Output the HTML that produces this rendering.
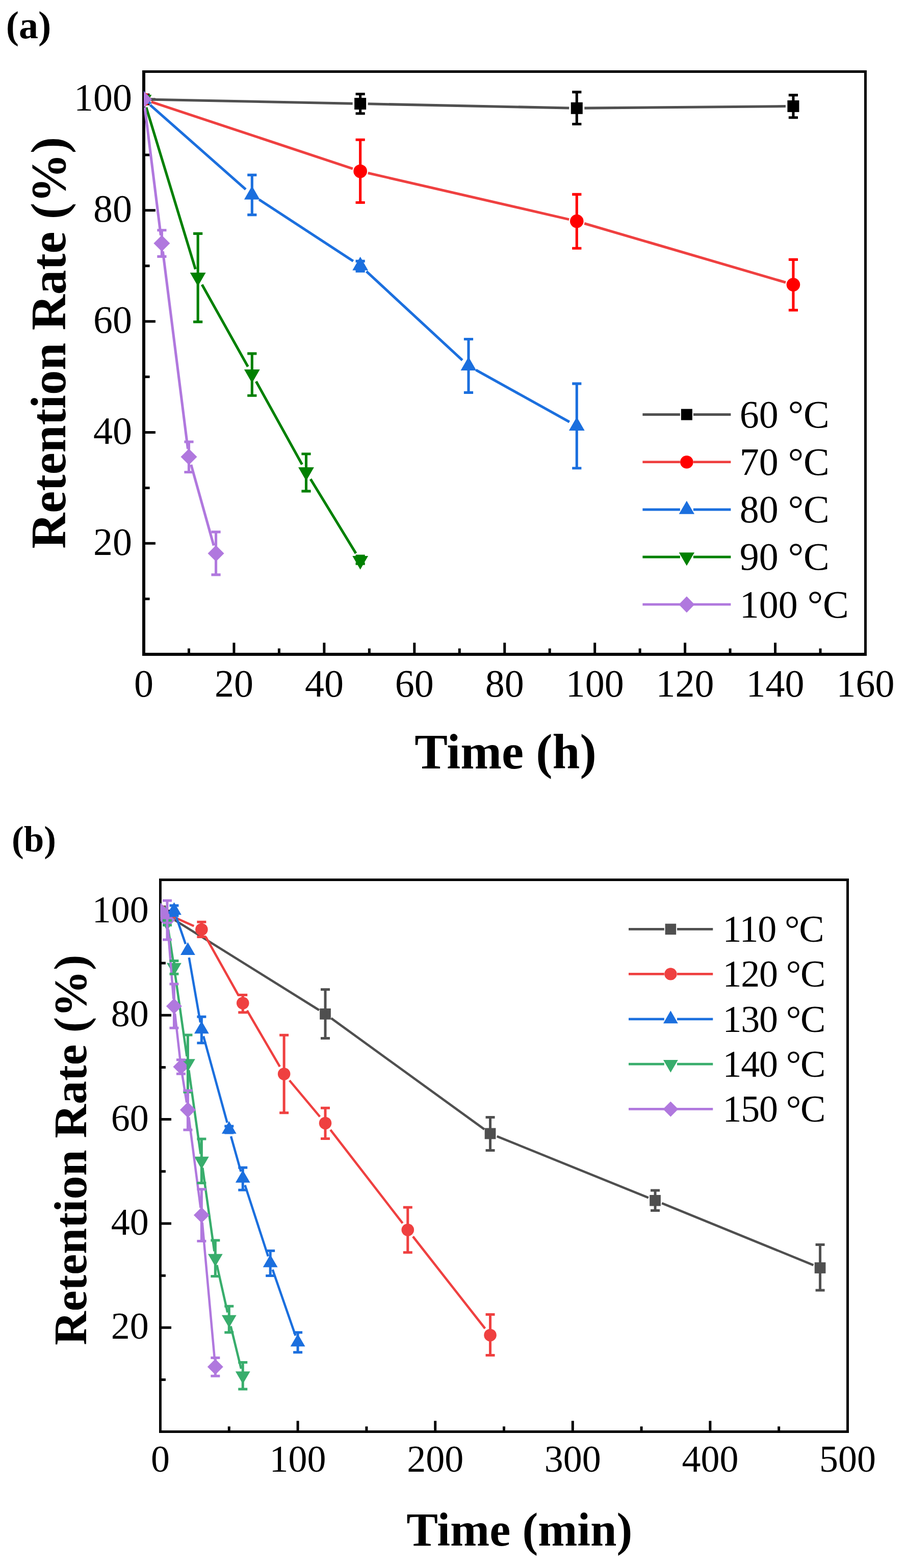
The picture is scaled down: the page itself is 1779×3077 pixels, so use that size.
<!DOCTYPE html><html><head><meta charset="utf-8"><title>Retention Rate vs Time</title><style>html,body{margin:0;padding:0;background:#fff;}svg{display:block;}text{font-family:'Liberation Serif', 'Times New Roman', serif;fill:#000;}</style></head><body>
<svg width="1779" height="3077" viewBox="0 0 1779 3077">
<rect width="1779" height="3077" fill="#fff"/>
<path d="M279 138H1700V143.1H279Z M279 1281H1700V1287H279Z M279 138H285V1287H279Z M1695 138H1700V1287H1695Z" fill="#000"/>
<path d="M370.47 1284.2V1272.6M458.94 1284.2V1261.3M547.41 1284.2V1272.6M635.88 1284.2V1261.3M724.34 1284.2V1272.6M812.81 1284.2V1261.3M901.28 1284.2V1272.6M989.75 1284.2V1261.3M1078.22 1284.2V1272.6M1166.69 1284.2V1261.3M1255.16 1284.2V1272.6M1343.62 1284.2V1261.3M1432.09 1284.2V1272.6M1520.56 1284.2V1261.3M1609.03 1284.2V1272.6M282 1175.28H293.6M282 1066.35H304.9M282 957.43H293.6M282 848.5H304.9M282 739.58H293.6M282 630.66H304.9M282 521.73H293.6M282 412.81H304.9M282 303.89H293.6M282 194.96H304.9" stroke="#000" stroke-width="5" fill="none"/>
<text x="282" y="1366.8" font-size="76" text-anchor="middle">0</text>
<text x="458.94" y="1366.8" font-size="76" text-anchor="middle">20</text>
<text x="635.88" y="1366.8" font-size="76" text-anchor="middle">40</text>
<text x="812.81" y="1366.8" font-size="76" text-anchor="middle">60</text>
<text x="989.75" y="1366.8" font-size="76" text-anchor="middle">80</text>
<text x="1166.69" y="1366.8" font-size="76" text-anchor="middle">100</text>
<text x="1343.62" y="1366.8" font-size="76" text-anchor="middle">120</text>
<text x="1520.56" y="1366.8" font-size="76" text-anchor="middle">140</text>
<text x="1697.5" y="1366.8" font-size="76" text-anchor="middle">160</text>
<text x="258.9" y="1088.65" font-size="76" text-anchor="end">20</text>
<text x="258.9" y="870.8" font-size="76" text-anchor="end">40</text>
<text x="258.9" y="652.96" font-size="76" text-anchor="end">60</text>
<text x="258.9" y="435.11" font-size="76" text-anchor="end">80</text>
<text x="258.9" y="217.26" font-size="76" text-anchor="end">100</text>
<text x="813.3" y="1508.1" font-size="97" font-weight="bold">Time (h)</text>
<text transform="translate(128 1076.7) rotate(-90)" font-size="97" font-weight="bold">Retention Rate (%)</text>
<text x="11.8" y="74.5" font-size="76" font-weight="bold">(a)</text>
<clipPath id="ca"><rect x="282" y="140.5" width="1415.5" height="1143.7"/></clipPath>
<g clip-path="url(#ca)">
<path d="M297 195.26L691.65 203.2M721.65 203.81L1116.3 211.99M1146.3 212.16L1540.95 208.54" stroke="#505050" stroke-width="5.1" fill="none"/>
<rect x="270.5" y="183.46" width="23" height="23" fill="#000"/><rect x="695.15" y="192" width="23" height="23" fill="#000"/><rect x="1119.8" y="200.8" width="23" height="23" fill="#000"/><rect x="1544.45" y="196.9" width="23" height="23" fill="#000"/>
<path d="M296.71 199.85L691.94 331.11M721.75 339.49L1116.2 430.61M1146.17 438.46L1541.08 554.24" stroke="#EF4040" stroke-width="5.1" fill="none"/>
<circle cx="282" cy="194.96" r="13.3" fill="#FF0000"/><circle cx="706.65" cy="336" r="13.3" fill="#FF0000"/><circle cx="1131.3" cy="434.1" r="13.3" fill="#FF0000"/><circle cx="1555.95" cy="558.6" r="13.3" fill="#FF0000"/>
<path d="M294.37 205.88L481.96 371.58M508.13 391.54L692.85 512.46M718.76 532.71L906.87 706.79M933.4 726.02L1116.88 827.98" stroke="#1B6FDE" stroke-width="5.1" fill="none"/>
<polygon points="282,177.16 297.4,203.86 266.6,203.86" fill="#1B6FDE"/><polygon points="494.32,364.7 509.72,391.4 478.93,391.4" fill="#1B6FDE"/><polygon points="706.65,503.7 722.05,530.4 691.25,530.4" fill="#1B6FDE"/><polygon points="918.98,700.2 934.38,726.9 903.58,726.9" fill="#1B6FDE"/><polygon points="1131.3,818.2 1146.7,844.9 1115.9,844.9" fill="#1B6FDE"/>
<path d="M286.8 210.75L383.36 528.21M396.21 558.4L486.28 719.6M502.31 748.44L592.5 911.56M609.08 940.08L698.05 1085.82" stroke="#008000" stroke-width="5.1" fill="none"/>
<polygon points="282,212.76 297.4,186.06 266.6,186.06" fill="#008000"/><polygon points="388.16,561.8 403.56,535.1 372.76,535.1" fill="#008000"/><polygon points="494.32,751.8 509.72,725.1 478.93,725.1" fill="#008000"/><polygon points="600.49,943.8 615.89,917.1 585.09,917.1" fill="#008000"/><polygon points="706.65,1117.7 722.05,1091 691.25,1091" fill="#008000"/>
<path d="M283.99 210.84L315.4 461.62M319.4 493.37L368.46 880.63M374.79 911.91L419.23 1070.49" stroke="#B078DE" stroke-width="5.1" fill="none"/>
<polygon points="282,178.96 298,194.96 282,210.96 266,194.96" fill="#B078DE"/><polygon points="317.39,461.5 333.39,477.5 317.39,493.5 301.39,477.5" fill="#B078DE"/><polygon points="370.47,880.5 386.47,896.5 370.47,912.5 354.47,896.5" fill="#B078DE"/><polygon points="423.55,1069.9 439.55,1085.9 423.55,1101.9 407.55,1085.9" fill="#B078DE"/>
<path d="M706.65 184.5V222.8M697.55 184.5H715.75M697.55 222.8H715.75" stroke="#000" stroke-width="5.1" fill="none"/>
<path d="M1131.3 180.6V243.5M1122.2 180.6H1140.4M1122.2 243.5H1140.4" stroke="#000" stroke-width="5.1" fill="none"/>
<path d="M1555.95 186.6V230.7M1546.85 186.6H1565.05M1546.85 230.7H1565.05" stroke="#000" stroke-width="5.1" fill="none"/>
<path d="M706.65 274.3V397.5M697.55 274.3H715.75M697.55 397.5H715.75" stroke="#FF0000" stroke-width="5.1" fill="none"/>
<path d="M1131.3 381.4V487.3M1122.2 381.4H1140.4M1122.2 487.3H1140.4" stroke="#FF0000" stroke-width="5.1" fill="none"/>
<path d="M1555.95 509.4V608.6M1546.85 509.4H1565.05M1546.85 608.6H1565.05" stroke="#FF0000" stroke-width="5.1" fill="none"/>
<path d="M494.32 343.4V421.6M485.22 343.4H503.43M485.22 421.6H503.43" stroke="#1B6FDE" stroke-width="5.1" fill="none"/>
<path d="M706.65 512.4V532.3M697.55 512.4H715.75M697.55 532.3H715.75" stroke="#1B6FDE" stroke-width="5.1" fill="none"/>
<path d="M918.98 665.5V770.4M909.88 665.5H928.08M909.88 770.4H928.08" stroke="#1B6FDE" stroke-width="5.1" fill="none"/>
<path d="M1131.3 752.9V918.8M1122.2 752.9H1140.4M1122.2 918.8H1140.4" stroke="#1B6FDE" stroke-width="5.1" fill="none"/>
<path d="M388.16 458.4V631.6M379.06 458.4H397.26M379.06 631.6H397.26" stroke="#008000" stroke-width="5.1" fill="none"/>
<path d="M494.32 693.9V776.3M485.22 693.9H503.43M485.22 776.3H503.43" stroke="#008000" stroke-width="5.1" fill="none"/>
<path d="M600.49 890.8V963.9M591.39 890.8H609.59M591.39 963.9H609.59" stroke="#008000" stroke-width="5.1" fill="none"/>
<path d="M706.65 1091V1106.3M697.55 1091H715.75M697.55 1106.3H715.75" stroke="#008000" stroke-width="5.1" fill="none"/>
<path d="M317.39 451.7V503.4M308.29 451.7H326.49M308.29 503.4H326.49" stroke="#B078DE" stroke-width="5.1" fill="none"/>
<path d="M370.47 867V926.5M361.37 867H379.57M361.37 926.5H379.57" stroke="#B078DE" stroke-width="5.1" fill="none"/>
<path d="M423.55 1043.9V1127.9M414.45 1043.9H432.65M414.45 1127.9H432.65" stroke="#B078DE" stroke-width="5.1" fill="none"/>
</g>
<path d="M1260.4 813.5H1333.9M1359.9 813.5H1433.4" stroke="#505050" stroke-width="4.8"/>
<rect x="1335.9" y="802.5" width="22" height="22" fill="#000"/>
<text x="1450.7" y="838.9" font-size="76">60 °C</text>
<path d="M1260.4 906.7H1333.9M1359.9 906.7H1433.4" stroke="#EF4040" stroke-width="4.8"/>
<circle cx="1346.9" cy="906.7" r="12.8" fill="#FF0000"/>
<text x="1450.7" y="932.1" font-size="76">70 °C</text>
<path d="M1260.4 1000H1333.9M1359.9 1000H1433.4" stroke="#1B6FDE" stroke-width="4.8"/>
<polygon points="1346.9,982.7 1362.1,1008.7 1331.7,1008.7" fill="#1B6FDE"/>
<text x="1450.7" y="1025.4" font-size="76">80 °C</text>
<path d="M1260.4 1093H1333.9M1359.9 1093H1433.4" stroke="#008000" stroke-width="4.8"/>
<polygon points="1346.9,1110.3 1362.1,1084.3 1331.7,1084.3" fill="#008000"/>
<text x="1450.7" y="1118.4" font-size="76">90 °C</text>
<path d="M1260.4 1186.2H1333.9M1359.9 1186.2H1433.4" stroke="#B078DE" stroke-width="4.8"/>
<polygon points="1346.9,1170.2 1362.4,1186.2 1346.9,1202.2 1331.4,1186.2" fill="#B078DE"/>
<text x="1450.7" y="1211.6" font-size="76">100 °C</text>
<path d="M312 1724H1665V1729H312Z M312 2807.1H1665V2812H312Z M312 1724H316.9V2812H312Z M1660.1 1724H1665V2812H1660.1Z" fill="#000"/>
<path d="M449.3 2809.7V2799.3M584.1 2809.7V2788.2M718.9 2809.7V2799.3M853.7 2809.7V2788.2M988.5 2809.7V2799.3M1123.3 2809.7V2788.2M1258.1 2809.7V2799.3M1392.9 2809.7V2788.2M1527.7 2809.7V2799.3M314.5 2707.51H324.9M314.5 2605.32H336M314.5 2503.13H324.9M314.5 2400.95H336M314.5 2298.76H324.9M314.5 2196.57H336M314.5 2094.38H324.9M314.5 1992.19H336M314.5 1890H324.9M314.5 1787.81H336" stroke="#000" stroke-width="5" fill="none"/>
<text x="314.5" y="2887.8" font-size="74" text-anchor="middle">0</text>
<text x="584.1" y="2887.8" font-size="74" text-anchor="middle">100</text>
<text x="853.7" y="2887.8" font-size="74" text-anchor="middle">200</text>
<text x="1123.3" y="2887.8" font-size="74" text-anchor="middle">300</text>
<text x="1392.9" y="2887.8" font-size="74" text-anchor="middle">400</text>
<text x="1662.5" y="2887.8" font-size="74" text-anchor="middle">500</text>
<text x="291.8" y="2627.32" font-size="74" text-anchor="end">20</text>
<text x="291.8" y="2422.95" font-size="74" text-anchor="end">40</text>
<text x="291.8" y="2218.57" font-size="74" text-anchor="end">60</text>
<text x="291.8" y="2014.19" font-size="74" text-anchor="end">80</text>
<text x="291.8" y="1809.81" font-size="74" text-anchor="end">100</text>
<text x="797.2" y="3033" font-size="92.6" font-weight="bold">Time (min)</text>
<text transform="translate(169 2639.7) rotate(-90)" font-size="92" font-weight="bold">Retention Rate (%)</text>
<text x="23" y="1670.7" font-size="71" font-weight="bold">(b)</text>
<clipPath id="cb"><rect x="314.5" y="1726.5" width="1348" height="1083.2"/></clipPath>
<g clip-path="url(#cb)">
<path d="M326.55 1795.33L625.97 1982.28M649.51 1998.14L950.05 2216.16M974.7 2229.84L1271.9 2350.46M1298.2 2361.17L1595.44 2482.63" stroke="#4F4F4F" stroke-width="4.5" fill="none"/>
<rect x="303.65" y="1776.96" width="21.7" height="21.7" fill="#4F4F4F"/><rect x="627.17" y="1978.95" width="21.7" height="21.7" fill="#4F4F4F"/><rect x="950.69" y="2213.65" width="21.7" height="21.7" fill="#4F4F4F"/><rect x="1274.21" y="2344.95" width="21.7" height="21.7" fill="#4F4F4F"/><rect x="1597.73" y="2477.15" width="21.7" height="21.7" fill="#4F4F4F"/>
<path d="M329.56 1794.55L380.32 1817.26M403.44 1838.4L468.2 1954.1M484.56 1982.76L548.84 2093.24M567.74 2120.15L627.42 2191.35M648.1 2217.06L789.7 2400.44M809.95 2426.49L951.37 2607.01" stroke="#EF4040" stroke-width="4.5" fill="none"/>
<circle cx="314.5" cy="1787.81" r="12.3" fill="#EF4040"/><circle cx="395.38" cy="1824" r="12.3" fill="#EF4040"/><circle cx="476.26" cy="1968.5" r="12.3" fill="#EF4040"/><circle cx="557.14" cy="2107.5" r="12.3" fill="#EF4040"/><circle cx="638.02" cy="2204" r="12.3" fill="#EF4040"/><circle cx="799.78" cy="2413.5" r="12.3" fill="#EF4040"/><circle cx="961.54" cy="2620" r="12.3" fill="#EF4040"/>
<path d="M345.94 1800.05L363.94 1852.55M370.79 1879.19L393.01 2006.41M399.03 2033.31L445.65 2203.19M453.03 2229.79L472.53 2299.21M480.52 2325.62L525.92 2465.38M534.7 2491.54L579.58 2620.96" stroke="#1B6FDE" stroke-width="4.5" fill="none"/>
<polygon points="314.5,1771.21 328.9,1796.11 300.1,1796.11" fill="#1B6FDE"/><polygon points="341.46,1770.4 355.86,1795.3 327.06,1795.3" fill="#1B6FDE"/><polygon points="368.42,1849 382.82,1873.9 354.02,1873.9" fill="#1B6FDE"/><polygon points="395.38,2003.4 409.78,2028.3 380.98,2028.3" fill="#1B6FDE"/><polygon points="449.3,2199.9 463.7,2224.8 434.9,2224.8" fill="#1B6FDE"/><polygon points="476.26,2295.9 490.66,2320.8 461.86,2320.8" fill="#1B6FDE"/><polygon points="530.18,2461.9 544.58,2486.8 515.78,2486.8" fill="#1B6FDE"/><polygon points="584.1,2617.4 598.5,2642.3 569.7,2642.3" fill="#1B6FDE"/>
<path d="M330.08 1824.14L339.36 1884.36M343.41 1911.66L366.47 2072.84M370.34 2100.17L393.46 2264.33M397.31 2291.66L420.41 2455.34M425.36 2482.46L446.28 2575.54M452.57 2602.41L472.99 2686.09" stroke="#38AD6C" stroke-width="4.5" fill="none"/>
<polygon points="314.5,1804.41 328.9,1779.51 300.1,1779.51" fill="#38AD6C"/><polygon points="327.98,1827.1 342.38,1802.2 313.58,1802.2" fill="#38AD6C"/><polygon points="341.46,1914.6 355.86,1889.7 327.06,1889.7" fill="#38AD6C"/><polygon points="368.42,2103.1 382.82,2078.2 354.02,2078.2" fill="#38AD6C"/><polygon points="395.38,2294.6 409.78,2269.7 380.98,2269.7" fill="#38AD6C"/><polygon points="422.34,2485.6 436.74,2460.7 407.94,2460.7" fill="#38AD6C"/><polygon points="449.3,2605.6 463.7,2580.7 434.9,2580.7" fill="#38AD6C"/><polygon points="476.26,2716.1 490.66,2691.2 461.86,2691.2" fill="#38AD6C"/>
<path d="M329.13 1820.05L340.31 1960.05M343.09 1988.91L353.31 2078.99M357.22 2107.72L366.14 2163.68M370.3 2192.38L393.5 2370.22M396.69 2399.04L421.03 2667.76" stroke="#B078DE" stroke-width="4.5" fill="none"/>
<polygon points="314.5,1771.51 330.8,1787.81 314.5,1804.11 298.2,1787.81" fill="#B078DE"/><polygon points="327.98,1790.1 343.48,1805.6 327.98,1821.1 312.48,1805.6" fill="#B078DE"/><polygon points="341.46,1959 356.96,1974.5 341.46,1990 325.96,1974.5" fill="#B078DE"/><polygon points="354.94,2077.9 370.44,2093.4 354.94,2108.9 339.44,2093.4" fill="#B078DE"/><polygon points="368.42,2162.5 383.92,2178 368.42,2193.5 352.92,2178" fill="#B078DE"/><polygon points="395.38,2369.1 410.88,2384.6 395.38,2400.1 379.88,2384.6" fill="#B078DE"/><polygon points="422.34,2666.7 437.84,2682.2 422.34,2697.7 406.84,2682.2" fill="#B078DE"/>
<path d="M638.02 1941.8V2037.5M629.02 1941.8H647.02M629.02 2037.5H647.02" stroke="#4F4F4F" stroke-width="5.0" fill="none"/>
<path d="M961.54 2192.4V2257.6M952.54 2192.4H970.54M952.54 2257.6H970.54" stroke="#4F4F4F" stroke-width="5.0" fill="none"/>
<path d="M1285.06 2335.9V2375.4M1276.06 2335.9H1294.06M1276.06 2375.4H1294.06" stroke="#4F4F4F" stroke-width="5.0" fill="none"/>
<path d="M1608.58 2442.5V2532M1599.58 2442.5H1617.58M1599.58 2532H1617.58" stroke="#4F4F4F" stroke-width="5.0" fill="none"/>
<path d="M395.38 1809.3V1838.4M386.38 1809.3H404.38M386.38 1838.4H404.38" stroke="#EF4040" stroke-width="5.0" fill="none"/>
<path d="M476.26 1952.4V1986.7M467.26 1952.4H485.26M467.26 1986.7H485.26" stroke="#EF4040" stroke-width="5.0" fill="none"/>
<path d="M557.14 2031.3V2183.7M548.14 2031.3H566.14M548.14 2183.7H566.14" stroke="#EF4040" stroke-width="5.0" fill="none"/>
<path d="M638.02 2174.3V2234.4M629.02 2174.3H647.02M629.02 2234.4H647.02" stroke="#EF4040" stroke-width="5.0" fill="none"/>
<path d="M799.78 2369.3V2457.7M790.78 2369.3H808.78M790.78 2457.7H808.78" stroke="#EF4040" stroke-width="5.0" fill="none"/>
<path d="M961.54 2579.4V2659.5M952.54 2579.4H970.54M952.54 2659.5H970.54" stroke="#EF4040" stroke-width="5.0" fill="none"/>
<path d="M341.46 1777V1797M332.46 1777H350.46M332.46 1797H350.46" stroke="#1B6FDE" stroke-width="5.0" fill="none"/>
<path d="M395.38 1995.3V2046.8M386.38 1995.3H404.38M386.38 2046.8H404.38" stroke="#1B6FDE" stroke-width="5.0" fill="none"/>
<path d="M449.3 2210V2223M440.3 2210H458.3M440.3 2223H458.3" stroke="#1B6FDE" stroke-width="5.0" fill="none"/>
<path d="M476.26 2291.3V2335.2M467.26 2291.3H485.26M467.26 2335.2H485.26" stroke="#1B6FDE" stroke-width="5.0" fill="none"/>
<path d="M530.18 2454.6V2503.5M521.18 2454.6H539.18M521.18 2503.5H539.18" stroke="#1B6FDE" stroke-width="5.0" fill="none"/>
<path d="M584.1 2614.7V2653.8M575.1 2614.7H593.1M575.1 2653.8H593.1" stroke="#1B6FDE" stroke-width="5.0" fill="none"/>
<path d="M327.98 1806.3V1815.5M318.98 1806.3H336.98M318.98 1815.5H336.98" stroke="#38AD6C" stroke-width="5.0" fill="none"/>
<path d="M341.46 1885.4V1911.3M332.46 1885.4H350.46M332.46 1911.3H350.46" stroke="#38AD6C" stroke-width="5.0" fill="none"/>
<path d="M368.42 2031V2143M359.42 2031H377.42M359.42 2143H377.42" stroke="#38AD6C" stroke-width="5.0" fill="none"/>
<path d="M395.38 2235V2321.5M386.38 2235H404.38M386.38 2321.5H404.38" stroke="#38AD6C" stroke-width="5.0" fill="none"/>
<path d="M422.34 2434V2504.6M413.34 2434H431.34M413.34 2504.6H431.34" stroke="#38AD6C" stroke-width="5.0" fill="none"/>
<path d="M449.3 2563.2V2614.7M440.3 2563.2H458.3M440.3 2614.7H458.3" stroke="#38AD6C" stroke-width="5.0" fill="none"/>
<path d="M476.26 2673.4V2725.9M467.26 2673.4H485.26M467.26 2725.9H485.26" stroke="#38AD6C" stroke-width="5.0" fill="none"/>
<path d="M327.98 1767.3V1843.9M318.98 1767.3H336.98M318.98 1843.9H336.98" stroke="#B078DE" stroke-width="5.0" fill="none"/>
<path d="M341.46 1931V2017.3M332.46 1931H350.46M332.46 2017.3H350.46" stroke="#B078DE" stroke-width="5.0" fill="none"/>
<path d="M354.94 2079.7V2107.2M345.94 2079.7H363.94M345.94 2107.2H363.94" stroke="#B078DE" stroke-width="5.0" fill="none"/>
<path d="M368.42 2140.1V2217.2M359.42 2140.1H377.42M359.42 2217.2H377.42" stroke="#B078DE" stroke-width="5.0" fill="none"/>
<path d="M395.38 2333.8V2435.4M386.38 2333.8H404.38M386.38 2435.4H404.38" stroke="#B078DE" stroke-width="5.0" fill="none"/>
<path d="M422.34 2664.5V2700.2M413.34 2664.5H431.34M413.34 2700.2H431.34" stroke="#B078DE" stroke-width="5.0" fill="none"/>
</g>
<path d="M1233 1823.4H1302.8M1328 1823.4H1398.3" stroke="#4F4F4F" stroke-width="4.7"/>
<rect x="1304.65" y="1812.65" width="21.5" height="21.5" fill="#4F4F4F"/>
<text x="1417.5" y="1848.4" font-size="74" letter-spacing="-1.3">110 °C</text>
<path d="M1233 1911.4H1302.8M1328 1911.4H1398.3" stroke="#EF4040" stroke-width="4.7"/>
<circle cx="1315.4" cy="1911.4" r="12.2" fill="#EF4040"/>
<text x="1417.5" y="1936.4" font-size="74" letter-spacing="-1.3">120 °C</text>
<path d="M1233 1999.9H1302.8M1328 1999.9H1398.3" stroke="#1B6FDE" stroke-width="4.7"/>
<polygon points="1315.4,1983.3 1329.8,2008.2 1301,2008.2" fill="#1B6FDE"/>
<text x="1417.5" y="2024.9" font-size="74" letter-spacing="-1.3">130 °C</text>
<path d="M1233 2088.2H1302.8M1328 2088.2H1398.3" stroke="#38AD6C" stroke-width="4.7"/>
<polygon points="1315.4,2104.8 1329.8,2079.9 1301,2079.9" fill="#38AD6C"/>
<text x="1417.5" y="2113.2" font-size="74" letter-spacing="-1.3">140 °C</text>
<path d="M1233 2176.4H1302.8M1328 2176.4H1398.3" stroke="#B078DE" stroke-width="4.7"/>
<polygon points="1315.4,2161.4 1330.4,2176.4 1315.4,2191.4 1300.4,2176.4" fill="#B078DE"/>
<text x="1417.5" y="2201.4" font-size="74" letter-spacing="-1.3">150 °C</text>
</svg></body></html>
